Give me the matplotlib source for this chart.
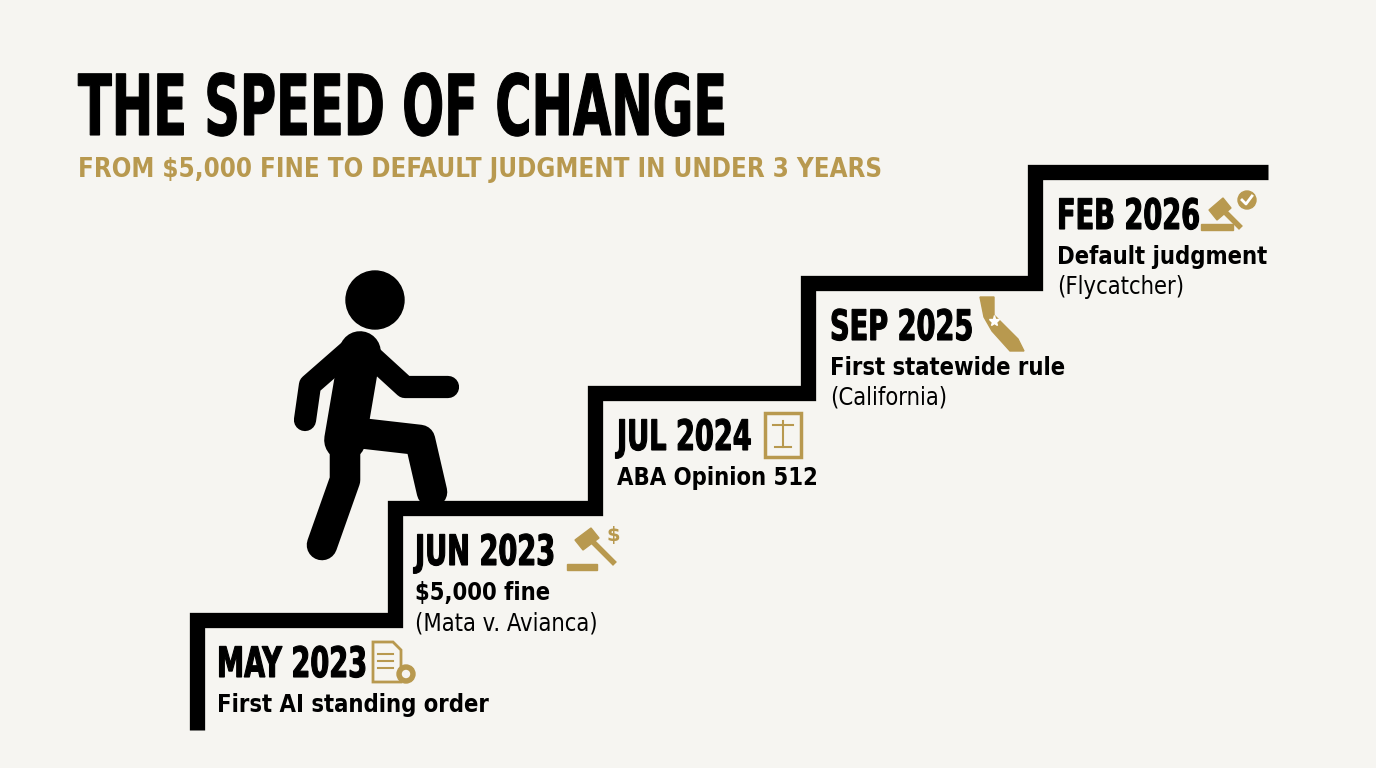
import matplotlib.pyplot as plt
from matplotlib.patches import Circle, Rectangle, Polygon, PathPatch
from matplotlib.textpath import TextPath
from matplotlib.font_manager import FontProperties
from matplotlib.transforms import Affine2D

dates = ["MAY 2023", "JUN 2023", "JUL 2024", "SEP 2025", "FEB 2026"]
events = ["First AI standing order", "$5,000 fine", "ABA Opinion 512",
          "First statewide rule", "Default judgment"]
notes = ["", "(Mata v. Avianca)", "", "(California)", "(Flycatcher)"]

GOLD = "#b8994f"
BG = "#f6f5f1"
HEAVY = FontProperties(family="DejaVu Sans", stretch="condensed", weight="bold")

fig = plt.figure(figsize=(13.76, 7.68), dpi=100, facecolor=BG)
ax = fig.add_axes([0, 0, 1, 1])
ax.set_xlim(0, 1376)
ax.set_ylim(768, 0)
ax.axis("off")


def squeezed(x, y, s, size, sx, color):
    # text drawn as a path, squeezed horizontally to look like a compressed display face
    tp = TextPath((0, 0), s, size=size, prop=HEAVY)
    tr = Affine2D().scale(sx, -1).translate(x, y) + ax.transData
    ax.add_patch(PathPatch(tp, transform=tr, fc=color, ec=color, lw=0.8))


squeezed(78, 135, "THE SPEED OF CHANGE", 84, 0.655, "black")
ax.text(78, 170, "FROM $5,000 FINE TO DEFAULT JUDGMENT IN UNDER 3 YEARS",
        fontsize=18.5, va="center", color=GOLD, family="DejaVu Sans",
        stretch="condensed", fontweight="bold")

# staircase
step_x = [197, 395, 595, 808, 1035, 1268]
step_y = [620, 508, 393, 283, 172]
xs, ys = [step_x[0]], [730]
for i, y in enumerate(step_y):
    xs += [step_x[i], step_x[i + 1]]
    ys += [y, y]
ax.plot(xs, ys, color="black", lw=11, solid_joinstyle="miter", solid_capstyle="butt")

# labels
lx = [217, 415, 617, 830, 1057]
for i in range(len(dates)):
    top = step_y[i] + 43
    squeezed(lx[i], top + 14, dates[i], 42, 0.72, "black")
    ax.text(lx[i], top + 42, events[i], fontsize=17, va="center", color="black",
            family="DejaVu Sans", stretch="condensed", fontweight="bold")
    if notes[i]:
        ax.text(lx[i], top + 72, notes[i], fontsize=17, va="center", color="black",
                family="DejaVu Sans", stretch="condensed")

# simple gold icons
ix = [373, 565, 765, 980, 1203]
for i, x in enumerate(ix):
    cy = step_y[i] + 42
    if i == 0:  # document + gear
        ax.add_patch(Polygon([[x, cy - 20], [x + 20, cy - 20], [x + 28, cy - 12],
                              [x + 28, cy + 20], [x, cy + 20]], closed=True,
                             fill=False, ec=GOLD, lw=2))
        for k in range(3):
            ax.plot([x + 5, x + 20], [cy - 8 + 7 * k, cy - 8 + 7 * k], color=GOLD, lw=1.5)
        ax.add_patch(Circle((x + 33, cy + 12), 9, color=GOLD))
        ax.add_patch(Circle((x + 33, cy + 12), 3.5, color=BG))
    elif i == 1:  # gavel + $
        ax.add_patch(Rectangle((x + 2, cy + 14), 30, 6, color=GOLD))
        ax.add_patch(Polygon([[x + 10, cy - 10], [x + 26, cy - 22], [x + 34, cy - 12],
                              [x + 18, cy]], color=GOLD))
        ax.plot([x + 28, x + 48], [cy - 8, cy + 12], color=GOLD, lw=4)
        ax.text(x + 42, cy - 15, "$", fontsize=14, color=GOLD, va="center", fontweight="bold")
    elif i == 2:  # book with scales
        ax.add_patch(Rectangle((x, cy - 22), 36, 44, fill=False, ec=GOLD, lw=2.5))
        ax.plot([x + 18, x + 18], [cy - 14, cy + 12], color=GOLD, lw=1.5)
        ax.plot([x + 8, x + 28], [cy - 10, cy - 10], color=GOLD, lw=1.5)
        ax.plot([x + 10, x + 26], [cy + 12, cy + 12], color=GOLD, lw=1.5)
    elif i == 3:  # California shape
        ax.add_patch(Polygon([[x, cy - 28], [x + 14, cy - 28], [x + 14, cy - 10],
                              [x + 38, cy + 14], [x + 44, cy + 26], [x + 30, cy + 26],
                              [x + 12, cy + 6], [x + 4, cy - 8]], color=GOLD))
        ax.plot(x + 14, cy - 4, marker="*", color="white", ms=8)
    else:  # gavel + check
        ax.add_patch(Rectangle((x - 2, cy + 10), 32, 6, color=GOLD))
        ax.add_patch(Polygon([[x + 6, cy - 4], [x + 20, cy - 16], [x + 28, cy - 6],
                              [x + 14, cy + 6]], color=GOLD))
        ax.plot([x + 22, x + 36], [cy - 2, cy + 12], color=GOLD, lw=4)
        ax.add_patch(Circle((x + 44, cy - 14), 9, color=GOLD))
        ax.plot([x + 39, x + 43, x + 49], [cy - 14, cy - 10, cy - 18], color="white", lw=2)

# walking figure
ax.add_patch(Circle((375, 300), 29, color="black"))
kw = dict(color="black", solid_capstyle="round", solid_joinstyle="round")
ax.plot([360, 345], [352, 440], lw=30, **kw)          # torso
ax.plot([350, 310, 305], [350, 385, 420], lw=16, **kw)  # back arm
ax.plot([370, 405, 448], [355, 387, 387], lw=16, **kw)  # front arm
ax.plot([345, 345, 322], [440, 480, 545], lw=22, **kw)  # back leg
ax.plot([350, 420, 432], [432, 440, 492], lw=22, **kw)  # front leg

fig.savefig("out.png", dpi=100, facecolor=BG)
